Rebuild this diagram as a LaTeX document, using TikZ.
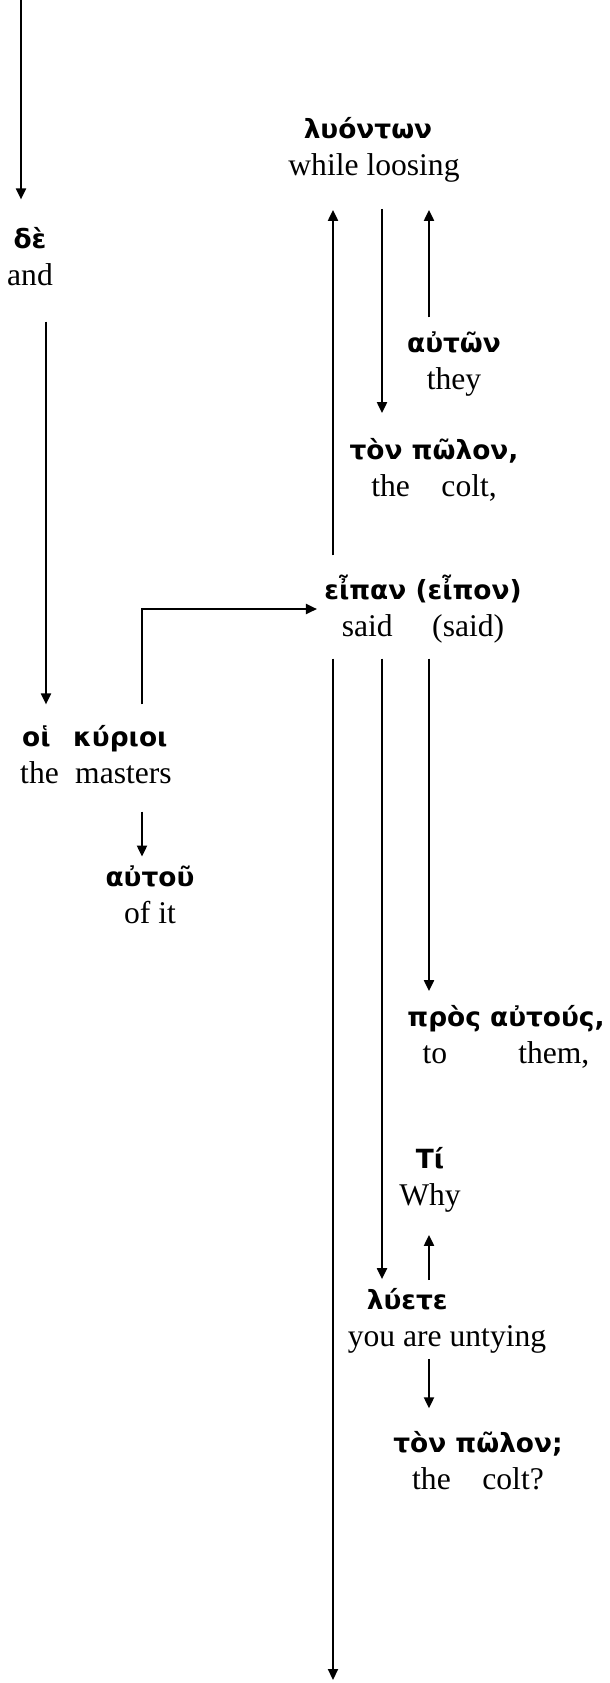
\documentclass[tikz,border=0pt]{standalone}
\usepackage{fontspec}
\setmainfont{Liberation Serif}
\newfontfamily\grkfont{DejaVu Sans}
\providecommand{\glStroke}{black}
\newcommand{\grk}[1]{{\grkfont\bfseries\fontsize{13.2}{18.5}\selectfont #1}}
\usetikzlibrary{arrows.meta}
\tikzset{
  >={Triangle[length=5.5pt,width=5pt]},
  word/.style={align=center,inner sep=0pt,font=\fontsize{15.8}{18.5}\selectfont},
  wordl/.style={word,align=left},
  conn/.style={->,draw=\glStroke,line width=1pt},
}

\begin{document}
\begin{tikzpicture}[x=0.5pt,y=-0.5pt]
\useasboundingbox (0,0) rectangle (610,1683);
% --- Word nodes ------------------------------------------------------------

  \node[word] (de) at (30,257) {\grk{δὲ}\\and};

  \node[wordl] (kyrioi) at (96,755) {\hspace*{1pt}\grk{\makebox[25.5pt][l]{οἱ}κύριοι}\\\makebox[27.5pt][l]{the}masters};

  \node[word] (autou) at (150,895) {\grk{αὐτοῦ}\\of it};

  \node[word] (lyonton) at (374,150) {\grk{λυόντων}\hspace*{6pt}\\while loosing};

  \node[word] (auton) at (454,364) {\grk{αὐτῶν}\\they};

  \node[word] (polon1) at (434,470) {\grk{τὸν πῶλον,}\\the\quad colt,};

  \node[word] (eipan) at (423,609) {\grk{εἶπαν (εἶπον)}\\said\quad\ (said)};

  \node[word] (pros) at (506,1037) {\grk{πρὸς αὐτούς,}\\to\qquad\ them,};

  \node[word] (ti) at (430,1180) {\grk{Τί}\\Why};

  \node[wordl] (lyete) at (447,1321) {\hspace*{9.5pt}\grk{λύετε}\\you are untying};

  \node[word] (polon2) at (478,1461) {\grk{τὸν πῶλον;}\\the\quad colt?};

% --- Lanes and free ends ---------------------------------------------------

  \coordinate (top) at (21,0);
  \coordinate (bottom) at (333,1680);
  \coordinate (laneL) at (46,0);
  \coordinate (laneM) at (142,0);
  \coordinate (laneA) at (333,0);
  \coordinate (laneB) at (382,0);
  \coordinate (laneC) at (429,0);

% --- Edges -----------------------------------------------------------------

  \draw[conn,shorten >=14pt] (top) -- (top |- de.north);

  \draw[conn,shorten <=17.5pt,shorten >=10.5pt] (laneL |- de.south) -- (laneL |- kyrioi.north);

  \draw[conn,shorten <=10.5pt,shorten >=3.5pt] (laneM |- kyrioi.north) |- (eipan.west);

  \draw[conn,shorten <=13.5pt,shorten >=4.5pt] (laneM |- kyrioi.south) -- (laneM |- autou.north);

  \draw[conn,shorten <=9.5pt,shorten >=13.5pt] (laneA |- eipan.north) -- (laneA |- lyonton.south);

  \draw[conn,shorten <=13pt,shorten >=12.5pt] (laneB |- lyonton.south) -- (laneB |- polon1.north);

  \draw[conn,shorten <=7pt,shorten >=13.5pt] (laneC |- auton.north) -- (laneC |- lyonton.south);

  \draw[conn,shorten <=7.5pt] (laneA |- eipan.south) -- (bottom);

  \draw[conn,shorten <=7.5pt,shorten >=4.5pt] (laneB |- eipan.south) -- (laneB |- lyete.north);

  \draw[conn,shorten <=7.5pt,shorten >=7pt] (laneC |- eipan.south) -- (laneC |- pros.north);

  \draw[conn,shorten <=4pt,shorten >=11pt] (laneC |- lyete.north) -- (laneC |- ti.south);

  \draw[conn,shorten <=2.5pt,shorten >=11.5pt] (laneC |- lyete.south) -- (laneC |- polon2.north);

\end{tikzpicture}
\end{document}
